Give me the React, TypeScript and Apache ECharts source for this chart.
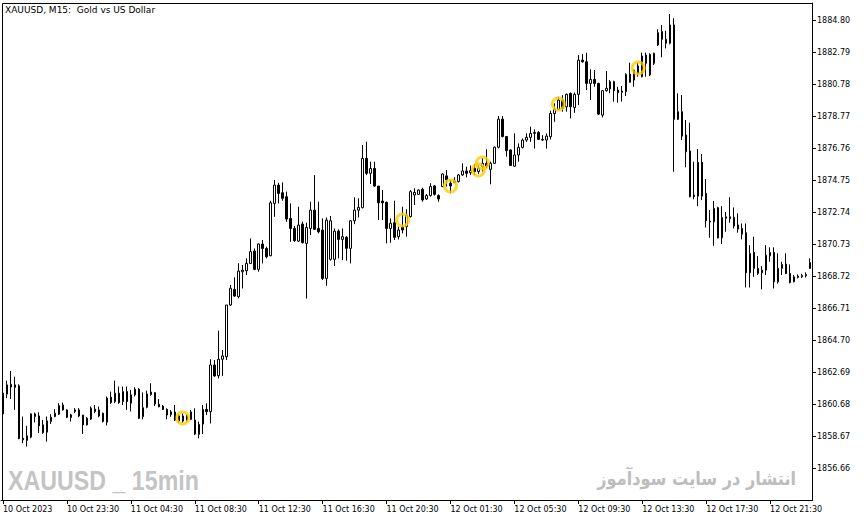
import React, { useEffect, useRef } from "react";
import * as echarts from "echarts";

// OHLC of XAUUSD M15 bars
const opens = [
  1861.36, 1861.30, 1861.90, 1861.88, 1861.82, 1858.53, 1858.39, 1858.60, 1859.89, 1859.93,
  1859.37, 1858.91, 1859.58, 1859.89, 1860.04, 1860.62, 1860.31, 1859.83, 1860.31, 1860.31,
  1859.99, 1859.37, 1859.73, 1860.35, 1860.31, 1860.10, 1859.54, 1861.11, 1860.83, 1861.36,
  1860.83, 1861.46, 1860.73, 1861.25, 1861.61, 1859.88, 1860.47, 1861.27, 1861.39, 1860.66,
  1860.55, 1860.34, 1860.01, 1860.18, 1859.93, 1859.93, 1859.67, 1860.18, 1859.67, 1858.77,
  1859.42, 1860.34, 1860.20, 1863.13, 1862.46, 1863.49, 1863.65, 1866.90, 1867.88, 1867.42,
  1868.99, 1869.05, 1869.51, 1870.29, 1869.14, 1870.73, 1870.45, 1869.99, 1873.28, 1874.43,
  1873.95, 1873.70, 1872.34, 1871.71, 1870.91, 1871.98, 1870.77, 1871.71, 1872.86, 1871.71,
  1871.61, 1868.57, 1869.77, 1869.77, 1871.54, 1871.02, 1871.15, 1870.46, 1872.19, 1872.86,
  1873.01, 1876.11, 1875.17, 1875.48, 1874.37, 1873.43, 1873.35, 1871.71, 1872.07, 1871.19,
  1871.82, 1871.82, 1872.45, 1873.81, 1873.85, 1874.17, 1873.56, 1873.77, 1874.38, 1873.77,
  1874.34, 1875.01, 1874.55, 1874.59, 1874.65, 1875.07, 1875.32, 1875.21, 1875.49, 1875.28,
  1875.59, 1875.80, 1875.42, 1875.80, 1876.81, 1878.57, 1877.48, 1876.64, 1875.62, 1876.32,
  1876.80, 1877.26, 1877.43, 1877.68, 1877.74, 1877.30, 1877.26, 1877.47, 1878.93, 1879.18,
  1879.77, 1879.35, 1880.19, 1879.31, 1880.13, 1882.28, 1882.18, 1880.82, 1881.07, 1880.82,
  1878.83, 1880.36, 1880.47, 1880.93, 1880.40, 1880.26, 1880.30, 1881.41, 1881.03, 1881.91,
  1881.24, 1882.60, 1881.35, 1882.08, 1883.23, 1884.07, 1883.59, 1883.34, 1884.49, 1878.56,
  1879.04, 1877.58, 1876.57, 1873.81, 1873.74, 1875.86, 1873.91, 1872.17, 1872.13, 1873.01,
  1871.12, 1872.34, 1872.44, 1872.40, 1871.92, 1871.71, 1871.44, 1868.92, 1870.20, 1869.20,
  1868.92, 1869.09, 1869.99, 1870.20, 1868.36, 1869.20, 1869.47, 1868.88, 1868.36, 1868.63,
  1868.67, 1868.74, 1869.20,
];
const highs = [
  1861.95, 1862.15, 1862.76, 1862.40, 1861.92, 1859.89, 1859.31, 1860.10, 1860.14, 1860.16,
  1859.68, 1859.89, 1860.04, 1860.35, 1860.73, 1860.77, 1860.35, 1860.06, 1860.42, 1860.42,
  1859.99, 1859.85, 1860.52, 1860.62, 1860.52, 1860.14, 1861.15, 1861.46, 1862.15, 1861.78,
  1861.78, 1861.78, 1861.57, 1861.73, 1861.67, 1861.41, 1861.52, 1861.98, 1861.43, 1860.99,
  1860.62, 1860.41, 1860.30, 1860.62, 1860.05, 1860.09, 1860.05, 1860.30, 1860.41, 1859.57,
  1860.62, 1860.72, 1863.49, 1863.44, 1865.29, 1864.07, 1866.90, 1868.16, 1868.64, 1869.52,
  1869.41, 1869.83, 1871.08, 1870.45, 1870.77, 1870.98, 1870.56, 1873.45, 1874.75, 1874.58,
  1874.60, 1874.02, 1873.28, 1871.86, 1873.07, 1872.13, 1872.07, 1873.39, 1875.06, 1873.39,
  1872.34, 1872.40, 1872.49, 1871.71, 1871.65, 1871.71, 1871.23, 1872.24, 1873.66, 1873.60,
  1876.95, 1877.16, 1875.90, 1875.90, 1874.37, 1874.12, 1873.39, 1872.34, 1873.45, 1871.82,
  1873.07, 1872.91, 1874.12, 1874.23, 1874.16, 1874.27, 1873.87, 1874.55, 1874.44, 1873.85,
  1875.17, 1875.38, 1874.75, 1874.92, 1875.13, 1875.80, 1875.59, 1875.66, 1875.76, 1875.70,
  1876.12, 1876.68, 1875.91, 1876.85, 1878.77, 1878.77, 1877.52, 1876.68, 1877.68, 1877.05,
  1877.36, 1877.68, 1878.10, 1877.93, 1877.82, 1877.57, 1877.68, 1879.10, 1879.56, 1879.98,
  1880.08, 1880.19, 1880.25, 1880.25, 1882.60, 1882.66, 1882.74, 1881.70, 1881.66, 1880.86,
  1880.40, 1881.60, 1881.03, 1880.99, 1880.61, 1880.66, 1881.45, 1882.12, 1881.70, 1882.12,
  1882.75, 1882.75, 1882.71, 1882.75, 1884.22, 1884.49, 1884.13, 1885.18, 1884.91, 1880.20,
  1880.09, 1878.52, 1878.35, 1875.90, 1876.69, 1876.38, 1874.81, 1872.86, 1873.43, 1873.07,
  1873.11, 1872.74, 1873.66, 1873.03, 1872.65, 1872.02, 1872.02, 1870.66, 1871.19, 1869.97,
  1869.34, 1870.66, 1870.52, 1870.52, 1870.14, 1869.62, 1870.14, 1869.45, 1868.78, 1868.82,
  1868.86, 1868.95, 1869.83,
];
const lows = [
  1860.00, 1861.05, 1861.00, 1860.31, 1858.47, 1858.22, 1858.01, 1858.53, 1859.52, 1858.85,
  1858.80, 1858.32, 1859.43, 1859.85, 1859.99, 1860.27, 1859.79, 1859.58, 1860.10, 1859.85,
  1858.80, 1859.33, 1859.68, 1860.10, 1859.85, 1859.52, 1859.33, 1860.69, 1860.73, 1860.69,
  1860.62, 1860.31, 1860.21, 1861.15, 1859.73, 1859.72, 1860.41, 1861.20, 1860.55, 1860.47,
  1860.30, 1859.72, 1859.88, 1859.61, 1859.51, 1859.51, 1859.57, 1859.67, 1858.73, 1858.52,
  1858.79, 1859.99, 1859.46, 1862.40, 1862.29, 1862.44, 1863.44, 1866.84, 1867.42, 1867.32,
  1867.94, 1868.78, 1869.47, 1869.09, 1868.99, 1869.51, 1869.83, 1869.97, 1872.44, 1873.28,
  1873.45, 1872.13, 1870.87, 1870.87, 1870.87, 1870.77, 1867.31, 1871.29, 1871.61, 1871.40,
  1868.47, 1868.11, 1869.68, 1869.35, 1869.83, 1869.72, 1869.68, 1869.51, 1871.98, 1872.40,
  1872.97, 1875.06, 1874.50, 1874.33, 1872.24, 1872.24, 1870.77, 1870.81, 1870.98, 1871.02,
  1871.40, 1871.19, 1872.40, 1873.18, 1873.81, 1873.39, 1873.50, 1873.71, 1873.77, 1873.39,
  1874.30, 1874.34, 1873.92, 1874.55, 1874.59, 1875.01, 1874.92, 1875.07, 1875.07, 1875.13,
  1875.28, 1875.49, 1874.48, 1875.76, 1876.74, 1877.43, 1876.22, 1875.63, 1875.58, 1875.90,
  1876.73, 1877.15, 1877.15, 1876.73, 1877.26, 1877.22, 1876.73, 1877.30, 1878.41, 1879.14,
  1879.04, 1879.04, 1878.62, 1878.97, 1879.46, 1882.12, 1880.40, 1879.77, 1880.61, 1878.83,
  1878.68, 1880.30, 1880.20, 1879.67, 1879.61, 1879.67, 1880.03, 1880.86, 1880.61, 1881.24,
  1881.20, 1881.24, 1881.28, 1881.97, 1883.17, 1882.46, 1883.02, 1883.27, 1875.27, 1878.52,
  1877.26, 1875.55, 1873.66, 1873.54, 1873.11, 1873.49, 1871.77, 1871.12, 1870.62, 1871.08,
  1870.73, 1871.50, 1872.07, 1871.71, 1871.44, 1871.02, 1868.00, 1868.00, 1868.67, 1868.78,
  1867.88, 1868.78, 1869.62, 1867.94, 1868.25, 1868.78, 1868.84, 1868.26, 1868.32, 1868.57,
  1868.61, 1868.63, 1869.16,
];
const closes = [
  1860.06, 1861.88, 1861.75, 1861.73, 1858.51, 1858.43, 1858.68, 1860.06, 1860.06, 1859.31,
  1858.89, 1859.62, 1859.85, 1860.10, 1860.58, 1860.31, 1859.85, 1860.00, 1860.21, 1859.93,
  1859.37, 1859.79, 1860.42, 1860.21, 1859.93, 1859.58, 1861.05, 1860.77, 1861.36, 1860.77,
  1861.46, 1860.83, 1861.25, 1861.61, 1859.79, 1860.45, 1861.31, 1861.43, 1860.68, 1860.51,
  1860.34, 1859.99, 1860.18, 1859.67, 1859.61, 1859.61, 1859.93, 1859.72, 1858.79, 1859.40,
  1860.34, 1860.20, 1863.13, 1862.44, 1863.49, 1863.70, 1866.90, 1867.95, 1867.46, 1869.03,
  1869.09, 1869.51, 1870.25, 1869.14, 1870.73, 1870.45, 1869.93, 1873.32, 1874.43, 1873.91,
  1873.60, 1872.30, 1871.71, 1870.94, 1871.92, 1870.81, 1871.77, 1872.86, 1871.65, 1871.50,
  1868.57, 1872.23, 1872.19, 1871.54, 1871.02, 1871.19, 1870.46, 1872.19, 1872.86, 1873.03,
  1876.11, 1875.17, 1875.48, 1874.37, 1873.32, 1873.32, 1871.71, 1872.03, 1871.15, 1871.61,
  1871.61, 1872.55, 1874.02, 1873.97, 1874.12, 1873.50, 1873.77, 1874.34, 1873.85, 1873.56,
  1875.13, 1874.75, 1874.38, 1874.69, 1875.07, 1875.32, 1875.17, 1875.34, 1875.28, 1875.49,
  1875.80, 1875.63, 1875.80, 1876.81, 1878.57, 1877.48, 1876.60, 1875.66, 1876.32, 1876.80,
  1877.26, 1877.43, 1877.68, 1877.74, 1877.30, 1877.26, 1877.51, 1878.93, 1879.18, 1879.77,
  1879.25, 1880.13, 1879.35, 1880.13, 1882.28, 1882.18, 1880.82, 1881.07, 1880.82, 1878.89,
  1880.36, 1880.51, 1880.93, 1880.36, 1880.24, 1880.34, 1881.39, 1880.89, 1881.66, 1881.45,
  1882.54, 1882.08, 1882.64, 1882.71, 1884.01, 1883.59, 1883.34, 1884.49, 1878.56, 1879.04,
  1877.51, 1876.53, 1873.70, 1873.70, 1875.86, 1873.74, 1872.19, 1872.11, 1872.97, 1871.12,
  1872.40, 1872.44, 1872.32, 1871.86, 1871.67, 1871.35, 1868.92, 1870.14, 1869.20, 1868.88,
  1869.09, 1870.03, 1870.20, 1868.36, 1869.20, 1869.45, 1868.88, 1868.32, 1868.67, 1868.72,
  1868.76, 1868.82, 1869.57,
];

// time-axis tick labels (one every 16 bars)
const tickLabels = [
  "10 Oct 2023", "10 Oct 23:30", "11 Oct 04:30", "11 Oct 08:30", "11 Oct 12:30",
  "11 Oct 16:30", "11 Oct 20:30", "12 Oct 01:30", "12 Oct 05:30", "12 Oct 09:30",
  "12 Oct 13:30", "12 Oct 17:30", "12 Oct 21:30",
];
const TICK_STEP = 16;

// price-axis ticks (from the axis minimum upwards)
const yTickLabels = [
  "", "1856.66", "1858.67", "1860.68", "1862.69", "1864.70", "1866.71", "1868.72",
  "1870.73", "1872.74", "1874.75", "1876.76", "1878.77", "1880.78", "1882.79", "1884.80",
];
const Y_MIN = 1854.65;
const Y_MAX = 1885.87;
const Y_STEP = 2.01;

// yellow circle markers
const signalBars = [45, 100, 112, 119, 120, 139, 159];
const signalPrices = [1859.8, 1872.24, 1874.37, 1875.38, 1875.82, 1879.52, 1881.79];

function buildBarTimes(n: number): string[] {
  const out: string[] = [];
  let day = 10, h = 19, m = 30;
  for (let i = 0; i < n; i++) {
    out.push(`${day} Oct ${String(h).padStart(2, "0")}:${String(m).padStart(2, "0")}`);
    m += 15;
    if (m === 60) { m = 0; h += 1; }
    if (h === 24) { h = 1; day += 1; }
  }
  return out;
}

export default function App() {
  const ref = useRef<HTMLDivElement>(null);
  useEffect(() => {
    if (!ref.current) return;
    const chart = echarts.init(ref.current, undefined, { renderer: "svg" });
    const n = opens.length;
    const categories = buildBarTimes(n);
    const candleData = opens.map((o, i) => [o, closes[i], lows[i], highs[i]]);
    const font = "'DejaVu Sans', sans-serif";
    chart.setOption({
      animation: false,
      backgroundColor: "#ffffff",
      grid: { left: 0, top: 3, width: 812, height: 497, containLabel: false },
      xAxis: {
        type: "category",
        data: categories,
        boundaryGap: true,
        axisLine: { show: true, lineStyle: { color: "#000", width: 1 } },
        axisTick: {
          show: true,
          alignWithLabel: true,
          length: 4,
          interval: (i: number) => i % TICK_STEP === 0,
          lineStyle: { color: "#000" },
        },
        axisLabel: {
          show: true,
          interval: (i: number) => i % TICK_STEP === 0,
          formatter: (_v: string, i: number) => tickLabels[Math.round(i / TICK_STEP)] ?? "",
          align: "left",
          margin: 5,
          fontSize: 8,
          fontFamily: font,
          color: "#000",
        },
        splitLine: { show: false },
      },
      yAxis: {
        type: "value",
        position: "right",
        min: Y_MIN,
        max: Y_MAX,
        interval: Y_STEP,
        scale: true,
        axisLine: { show: true, lineStyle: { color: "#000", width: 1 } },
        axisTick: { show: true, length: 4, lineStyle: { color: "#000" } },
        axisLabel: {
          showMinLabel: false,
          showMaxLabel: false,
          margin: 5,
          fontSize: 8,
          fontFamily: font,
          color: "#000",
          formatter: (v: number) => yTickLabels[Math.round((v - Y_MIN) / Y_STEP)] ?? "",
        },
        splitLine: { show: false },
      },
      series: [
        {
          type: "candlestick",
          data: candleData,
          barWidth: 2,
          itemStyle: {
            color: "#ffffff",
            color0: "#000000",
            borderColor: "#000000",
            borderColor0: "#000000",
            borderWidth: 1,
          },
          emphasis: { disabled: true },
        },
        {
          type: "scatter",
          data: signalBars.map((b, i) => [b, signalPrices[i]]),
          symbol: "circle",
          symbolSize: 12,
          itemStyle: { color: "rgba(0,0,0,0)", borderColor: "#FFCC00", borderWidth: 3 },
          z: 5,
          silent: true,
        },
      ],
      graphic: [
        {
          type: "rect",
          shape: { x: 2.5, y: 3.5, width: 810, height: 497 },
          style: { fill: "none", stroke: "#000", lineWidth: 1 },
          silent: true,
          z: 0,
        },
        {
          type: "text",
          x: 5,
          y: 5,
          style: { text: "XAUUSD, M15:  Gold vs US Dollar", fontSize: 9, fontFamily: font, fill: "#000" },
        },
        {
          type: "text",
          x: 8,
          y: 467,
          scaleX: 0.86,
          style: {
            text: "XAUUSD _ 15min",
            fontSize: 27,
            fontWeight: "bold",
            fontFamily: "'Liberation Sans', sans-serif",
            fill: "#c4c4c4",
          },
          z: -1,
        },
        {
          type: "text",
          x: 796,
          y: 469,
          scaleX: 0.85,
          style: {
            text: "انتشار در سایت سودآموز",
            align: "right",
            fontSize: 19,
            fontWeight: "bold",
            fontFamily: font,
            fill: "#bdbdbd",
          },
          z: -1,
        },
      ],
    });
    return () => chart.dispose();
  }, []);
  return (
    <div
      ref={ref}
      style={{ position: "fixed", left: 0, top: 0, width: 866, height: 522, background: "#fff" }}
    />
  );
}
